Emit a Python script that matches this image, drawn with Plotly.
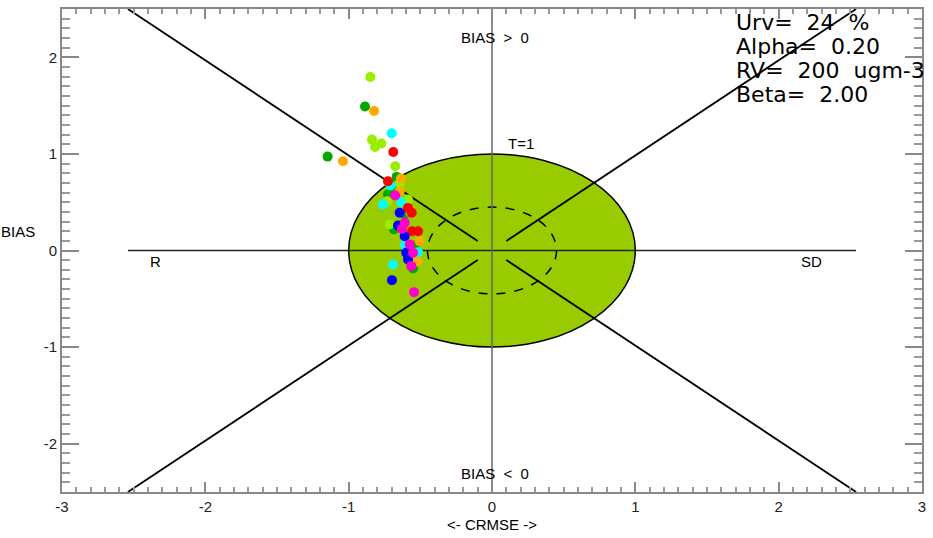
import plotly.graph_objects as go
import numpy as np

# ---- data ----
green_x = [-0.886, -1.147, -0.665, -0.691, -0.726, -0.609, -0.684, -0.539, -0.551]
green_y = [1.49, 0.972, 0.762, 0.659, 0.58, 0.372, 0.217, 0.052, -0.186]
lime_x = [-0.849, -0.837, -0.772, -0.816, -0.675, -0.644, -0.731, -0.586, -0.714]
lime_y = [1.796, 1.148, 1.107, 1.072, 0.872, 0.693, 0.51, 0.527, 0.269]
orange_x = [-0.823, -1.04, -0.635, -0.644, -0.567, -0.60, -0.505, -0.521]
orange_y = [1.445, 0.924, 0.745, 0.613, 0.39, 0.20, 0.096, -0.11]
cyan_x = [-0.70, -0.707, -0.761, -0.633, -0.609, -0.516, -0.691]
cyan_y = [1.213, 0.672, 0.476, 0.50, 0.052, -0.017, -0.145]
red_x = [-0.689, -0.726, -0.586, -0.558, -0.516, -0.56]
red_y = [1.02, 0.717, 0.441, 0.2, 0.2, 0.39]
blue_x = [-0.644, -0.656, -0.609, -0.598, -0.586, -0.698]
blue_y = [0.39, 0.259, 0.148, -0.024, -0.093, -0.307]
magenta_x = [-0.675, -0.609, -0.628, -0.574, -0.551, -0.563, -0.544]
magenta_y = [0.569, 0.286, 0.224, 0.062, -0.024, -0.162, -0.431]

series = [
    ("green", green_x, green_y, "#00a800"),
    ("lime", lime_x, lime_y, "#99ee00"),
    ("orange", orange_x, orange_y, "#ffaa00"),
    ("cyan", cyan_x, cyan_y, "#00ffff"),
    ("red", red_x, red_y, "#ff0000"),
    ("blue", blue_x, blue_y, "#0000ff"),
    ("magenta", magenta_x, magenta_y, "#ff00cc"),
]

tick_vals = [-3, -2, -1, 0, 1, 2, 3]
x_tick_text = ["-3", "-2", "-1", "0", "1", "2", "3"]
y_tick_vals = [-2, -1, 0, 1, 2]
y_tick_text = ["-2", "-1", "0", "1", "2"]

info_lines = ["Urv=  24  %", "Alpha=  0.20", "RV=  200  ugm-3", "Beta=  2.00"]
info_y = [2.36, 2.11, 1.86, 1.61]

target_radius = 1.0
inner_radius = 0.45
diag_inner = 0.1
diag_outer_x = 2.54
diag_outer_y = 2.5
hline_ext = 2.54

FONT = "Liberation Sans, Arial, sans-serif"

fig = go.Figure()

# target ellipse (filled) and inner dashed circle
fig.add_shape(type="circle", xref="x", yref="y",
              x0=-target_radius, x1=target_radius, y0=-target_radius, y1=target_radius,
              fillcolor="#99cc00", line=dict(color="black", width=1.5), layer="below")
fig.add_shape(type="circle", xref="x", yref="y",
              x0=-inner_radius, x1=inner_radius, y0=-inner_radius, y1=inner_radius,
              fillcolor="rgba(0,0,0,0)", line=dict(color="black", width=1.5, dash="dash"),
              layer="below")

# axes lines
fig.add_trace(go.Scatter(x=[-hline_ext, hline_ext], y=[0, 0], mode="lines",
                         line=dict(color="#222222", width=1.5), hoverinfo="skip",
                         showlegend=False))
fig.add_trace(go.Scatter(x=[0, 0], y=[-2.5, 2.5], mode="lines",
                         line=dict(color="#666666", width=1.5), hoverinfo="skip",
                         showlegend=False))
# diagonals
for sx, sy in [(-1, 1), (1, 1), (-1, -1), (1, -1)]:
    fig.add_trace(go.Scatter(x=[sx * diag_inner, sx * diag_outer_x],
                             y=[sy * diag_inner * diag_outer_y / diag_outer_x, sy * diag_outer_y],
                             mode="lines", line=dict(color="black", width=1.8),
                             hoverinfo="skip", showlegend=False))

# points
for name, xs, ys, col in series:
    fig.add_trace(go.Scatter(x=xs, y=ys, mode="markers", name=name,
                             marker=dict(color=col, size=10, line=dict(width=0)),
                             showlegend=False))

ann = []
def txt(x, y, s, size=15, xanchor="center", xref="x", yref="y"):
    ann.append(dict(x=x, y=y, xref=xref, yref=yref, text=s, showarrow=False,
                    xanchor=xanchor, yanchor="middle",
                    font=dict(family=FONT, size=size, color="black")))

txt(0.02, 2.2, "BIAS  >  0")
txt(0.02, -2.31, "BIAS  <  0")
txt(0.2, 1.11, "T=1")
txt(-2.35, -0.11, "R")
txt(2.23, -0.11, "SD")
for s, yy in zip(info_lines, info_y):
    ann.append(dict(x=1.69, y=yy, xref="x", yref="y", text=s, showarrow=False,
                    xanchor="left", yanchor="middle",
                    font=dict(family="DejaVu Sans, sans-serif", size=22, color="black")))
ann.append(dict(x=0, y=0, xref="paper", yref="paper", text="BIAS", showarrow=False,
                font=dict(family=FONT, size=15, color="black")))

fig.update_layout(
    width=933, height=538,
    margin=dict(l=62, r=7, t=9, b=43),
    plot_bgcolor="white", paper_bgcolor="white",
    showlegend=False,
    annotations=ann,
)
# BIAS y-label in pixel terms -> convert to paper coordinates
pw = 933 - 62 - 7
ph = 538 - 9 - 43
fig.layout.annotations[-1].update(x=(18 - 62) / pw, y=(538 - 43 - 233) / ph,
                                  xanchor="center", yanchor="middle")

fig.update_xaxes(range=[-3, 3], showgrid=False, zeroline=False,
                 showline=True, linecolor="#888888", linewidth=2, mirror="ticks",
                 ticks="inside", ticklen=10, tickwidth=2, tickcolor="#888888",
                 tickvals=tick_vals, ticktext=x_tick_text,
                 tickfont=dict(family=FONT, size=15, color="#222222"),
                 minor=dict(ticks="inside", ticklen=5, tickwidth=1.5, tickcolor="#999999",
                            dtick=0.1, tick0=0, showgrid=False),
                 title=dict(text="<- CRMSE ->", font=dict(family=FONT, size=15, color="black"),
                            standoff=5))
fig.update_yaxes(range=[-2.5, 2.5], showgrid=False, zeroline=False,
                 showline=True, linecolor="#888888", linewidth=2, mirror="ticks",
                 ticks="inside", ticklen=17, tickwidth=2, tickcolor="#888888",
                 tickvals=y_tick_vals, ticktext=y_tick_text,
                 tickfont=dict(family=FONT, size=15, color="#222222"),
                 minor=dict(ticks="inside", ticklen=8, tickwidth=1.5, tickcolor="#999999",
                            dtick=0.1, tick0=0, showgrid=False))

fig.write_html("out.html")
